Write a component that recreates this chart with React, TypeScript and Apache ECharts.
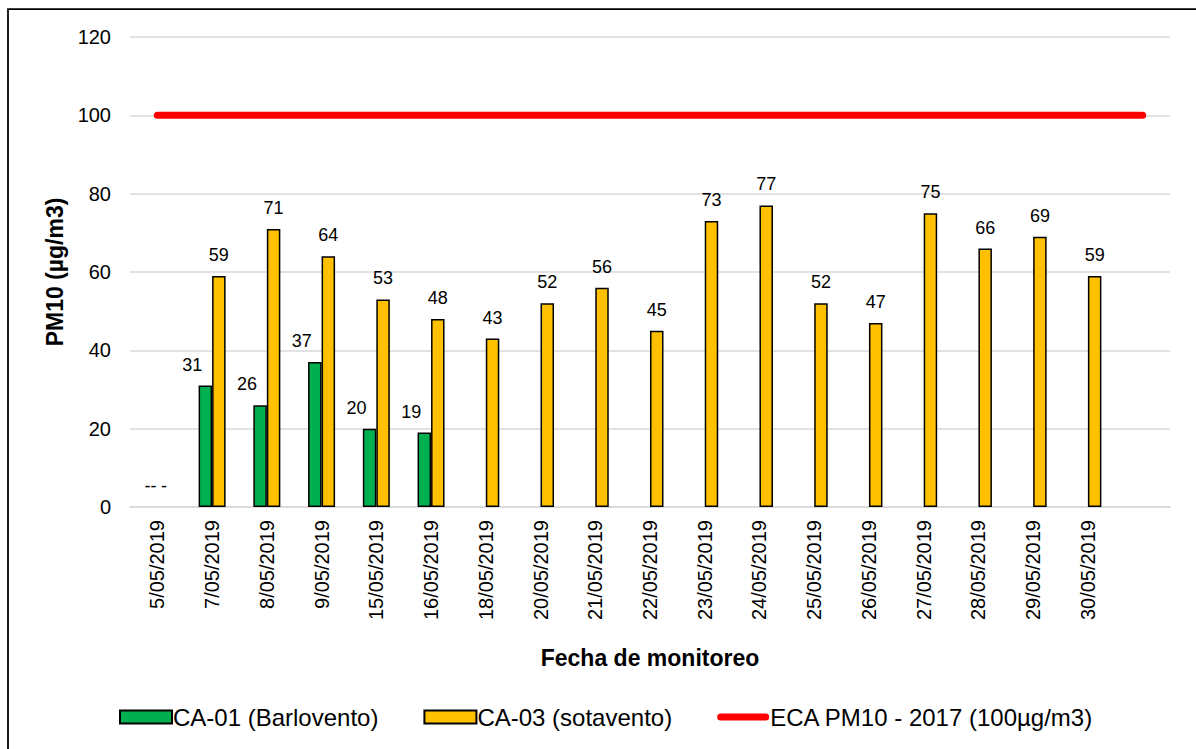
import React, { useEffect, useRef } from "react";
import * as echarts from "echarts";

const categories = [
  "5/05/2019", "7/05/2019", "8/05/2019", "9/05/2019", "15/05/2019", "16/05/2019",
  "18/05/2019", "20/05/2019", "21/05/2019", "22/05/2019", "23/05/2019", "24/05/2019",
  "25/05/2019", "26/05/2019", "27/05/2019", "28/05/2019", "29/05/2019", "30/05/2019", "",
];
const ca01: (number | null)[] = [
  0, 31, 26, 37, 20, 19, null, null, null, null, null, null, null, null, null, null, null, null, null,
];
const ca03: (number | null)[] = [
  0, 59, 71, 64, 53, 48, 43, 52, 56, 45, 73, 77, 52, 47, 75, 66, 69, 59, null,
];
const noDataCategories = ["5/05/2019"];
const noDataLabelCA01 = "--";
const noDataLabelCA03 = "-";
const ecaLimit = 100;
const yTicks = { min: 0, max: 120, interval: 20 };

const FONT = "'Liberation Sans', Arial, sans-serif";

export default function App() {
  const ref = useRef<HTMLDivElement>(null);
  useEffect(() => {
    if (!ref.current) return;
    const chart = echarts.init(ref.current, null, { renderer: "svg" });
    const mk = (vals: (number | null)[], noLabel: string) =>
      vals.map((v, i) => {
        if (noDataCategories.includes(categories[i])) {
          return {
            value: v,
            itemStyle: { borderWidth: 0 },
            label: { formatter: noLabel, offset: [0, 0] },
          };
        }
        return { value: v };
      });
    const labelBase = {
      show: true,
      position: "top",
      distance: 12,
      fontSize: 18,
      color: "#000",
      fontFamily: FONT,
    };
    const lineIcon =
      "path://M3.5,0 L48.5,0 A3.5,3.5 0 0 1 48.5,7 L3.5,7 A3.5,3.5 0 0 1 3.5,0 Z";
    chart.setOption({
      animation: false,
      textStyle: { fontFamily: FONT },
      graphic: [
        {
          type: "rect",
          shape: { x: 8, y: 9, width: 2000, height: 2000 },
          style: { fill: "none", stroke: "#000", lineWidth: 1.75 },
          silent: true,
        },
      ],
      grid: { left: 130, right: 26, top: 37, bottom: 242, containLabel: false },
      legend: {
        left: 114,
        top: 700,
        itemWidth: 52,
        itemHeight: 13,
        itemGap: 45,
        textStyle: { fontSize: 24, color: "#000", fontFamily: FONT, padding: [0, 0, 0, -4] },
        data: [
          { name: "CA-01 (Barlovento)", icon: "rect" },
          { name: "CA-03 (sotavento)", icon: "rect" },
          { name: "ECA PM10 - 2017 (100µg/m3)", icon: lineIcon },
        ],
      },
      xAxis: {
        type: "category",
        data: categories,
        name: "Fecha de monitoreo",
        nameLocation: "middle",
        nameGap: 139,
        nameTextStyle: { fontSize: 23, fontWeight: "bold", color: "#000", fontFamily: FONT },
        axisLine: { lineStyle: { color: "#D9D9D9", width: 1.5 } },
        axisTick: { show: false },
        axisLabel: {
          rotate: 90,
          margin: 13,
          fontSize: 20,
          color: "#000",
          fontFamily: FONT,
          interval: 0,
        },
      },
      yAxis: {
        type: "value",
        min: yTicks.min,
        max: yTicks.max,
        interval: yTicks.interval,
        name: "PM10 (µg/m3)",
        nameLocation: "middle",
        nameGap: 61,
        nameTextStyle: { fontSize: 23, fontWeight: "bold", color: "#000", fontFamily: FONT },
        axisLine: { show: false },
        axisTick: { show: false },
        axisLabel: { margin: 19, fontSize: 20, color: "#000", fontFamily: FONT },
        splitLine: { lineStyle: { color: "#D9D9D9", width: 1.5 } },
      },
      series: [
        {
          name: "CA-01 (Barlovento)",
          type: "bar",
          data: mk(ca01, noDataLabelCA01),
          barWidth: 13.5,
          barGap: "0%",
          itemStyle: { color: "#00B050", borderColor: "#000", borderWidth: 1.5 },
          label: { ...labelBase, offset: [-13, 0] },
        },
        {
          name: "CA-03 (sotavento)",
          type: "bar",
          data: mk(ca03, noDataLabelCA03),
          barWidth: 13.5,
          barGap: "0%",
          itemStyle: { color: "#FFC000", borderColor: "#000", borderWidth: 1.5 },
          label: { ...labelBase },
        },
        {
          name: "ECA PM10 - 2017 (100µg/m3)",
          type: "line",
          data: [
            [categories[0], ecaLimit],
            [categories[categories.length - 1], ecaLimit],
          ],
          symbol: "none",
          itemStyle: { color: "#FF0000" },
          lineStyle: { color: "#FF0000", width: 7, cap: "round" },
          z: 5,
        },
      ],
    });
    return () => chart.dispose();
  }, []);
  return (
    <div
      ref={ref}
      style={{ position: "fixed", left: 0, top: 0, width: 1196, height: 749, background: "#fff" }}
    />
  );
}
